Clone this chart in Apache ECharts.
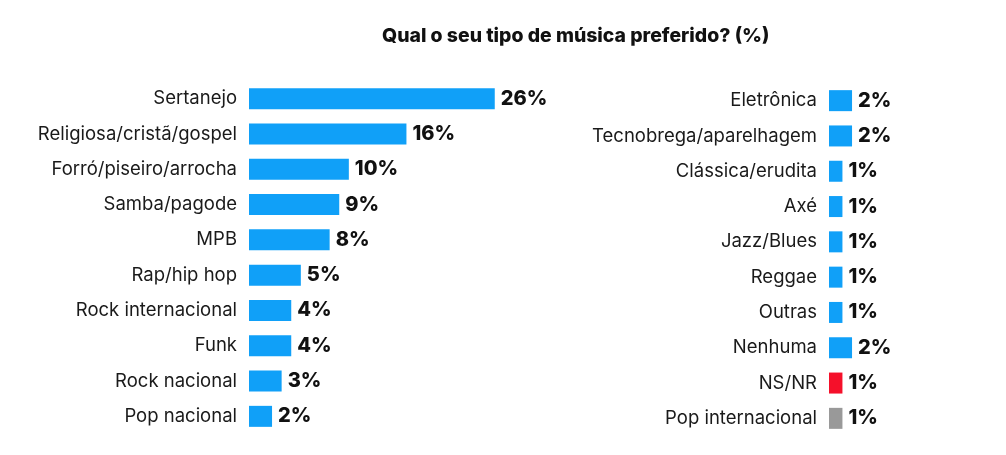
<!DOCTYPE html>
<html><head><meta charset="utf-8">
<script src="https://cdn.jsdelivr.net/npm/echarts@6/dist/echarts.min.js"></script>
<style>html,body{margin:0;padding:0;background:#fff}#c{width:1006px;height:455px}</style>
</head><body><div id="c"></div>
<script>
const titleText = 'Qual o seu tipo de música preferido? (%)';
const leftCategories = ['Sertanejo','Religiosa/cristã/gospel','Forró/piseiro/arrocha','Samba/pagode','MPB','Rap/hip hop','Rock internacional','Funk','Rock nacional','Pop nacional'];
const leftValues = [25.6, 16.4, 10.4, 9.4, 8.4, 5.4, 4.4, 4.4, 3.4, 2.4];
const rightCategories = ['Eletrônica','Tecnobrega/aparelhagem','Clássica/erudita','Axé','Jazz/Blues','Reggae','Outras','Nenhuma','NS/NR','Pop internacional'];
const rightValues = [2.4, 2.4, 1.4, 1.4, 1.4, 1.4, 1.4, 2.4, 1.4, 1.4];
const rightColors = ['#10a0f8','#10a0f8','#10a0f8','#10a0f8','#10a0f8','#10a0f8','#10a0f8','#10a0f8','#f5102a','#999999'];

const FONT = 'Inter';
const PX = 9.6;
const chart = echarts.init(document.getElementById('c'), null, {renderer:'canvas'});
const catAxis = (data, idx) => ({
  type:'category', data, gridIndex: idx, inverse:true,
  axisLine:{show:false}, axisTick:{show:false},
  axisLabel:{color:'#1a1a1a', fontFamily:FONT, fontSize:18.5, margin:12}
});
const valLabel = {show:true, position:'right', distance:6, color:'#111', fontFamily:FONT, fontWeight:800, fontSize:20,
  formatter: p => Math.round(p.value) + '%'};
chart.setOption({
  animation:false,
  title:{text:titleText, left:377, top:22, textStyle:{fontFamily:FONT, fontWeight:800, fontSize:19.4, color:'#111'}},
  grid:[
    {left:249, top:81, width:30*PX, height:353},
    {left:829, top:83, width:10*PX, height:353}
  ],
  xAxis:[
    {type:'value', gridIndex:0, min:0, max:30, show:false},
    {type:'value', gridIndex:1, min:0, max:10, show:false}
  ],
  yAxis:[catAxis(leftCategories,0), catAxis(rightCategories,1)],
  series:[
    {type:'bar', xAxisIndex:0, yAxisIndex:0, data:leftValues, barWidth:21, itemStyle:{color:'#10a0f8'}, label:valLabel},
    {type:'bar', xAxisIndex:1, yAxisIndex:1, data:rightValues.map((v,i)=>({value:v, itemStyle:{color:rightColors[i]}})), barWidth:21, label:valLabel}
  ]
});
</script></body></html>
